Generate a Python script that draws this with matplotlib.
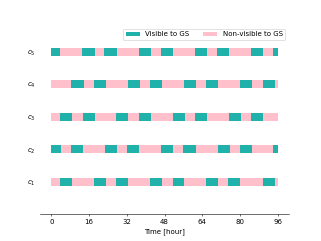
import matplotlib.pyplot as plt
import numpy as np

hours_total = 96
sat_labels = ["$c_1$", "$c_2$", "$c_3$", "$c_4$", "$c_5$"]
xticks = [0, 16, 32, 48, 64, 80, 96]

# visible windows (start, end) in hours, one list per satellite
vis_c1 = [(3.7, 8.8), (18.1, 23.0), (27.5, 32.6), (42.0, 47.1), (51.4, 56.3),
          (65.7, 70.8), (75.1, 80.2), (89.6, 94.7)]
vis_c2 = [(0, 4.0), (8.4, 13.4), (22.8, 27.9), (32.1, 37.3), (46.7, 51.8),
          (56.0, 61.2), (70.6, 75.7), (79.9, 85.1), (94.2, 96)]
vis_c3 = [(3.7, 8.7), (13.2, 18.35), (27.6, 32.7), (37.0, 42.1), (51.5, 56.6),
          (60.9, 66.0), (75.4, 80.5), (84.8, 89.9)]
vis_c4 = [(8.5, 13.7), (17.9, 23.0), (32.4, 37.6), (41.8, 46.9), (56.3, 61.5),
          (65.7, 70.8), (80.2, 85.3), (89.6, 94.7)]
vis_c5 = [(0, 3.8), (13.1, 18.35), (22.5, 27.7), (37.0, 42.1), (46.4, 51.6),
          (60.9, 66.0), (70.3, 75.5), (84.8, 89.9), (94.2, 96)]
windows = [vis_c1, vis_c2, vis_c3, vis_c4, vis_c5]

vis_color = "lightseagreen"
nonvis_color = "pink"
h = 0.25

fig, ax = plt.subplots(figsize=(6.42, 4.82), dpi=50)

for i, win in enumerate(windows):
    y = i + 1
    ax.broken_barh([(0, hours_total)], (y - h / 2, h), facecolors=nonvis_color,
                   label="Non-visible to GS" if i == 0 else None, zorder=1)
    ax.broken_barh([(s, e - s) for s, e in win], (y - h / 2, h), facecolors=vis_color,
                   label="Visible to GS" if i == 0 else None, zorder=2)

ax.set_yticks(np.arange(1, len(sat_labels) + 1))
ax.set_yticklabels(sat_labels)
ax.tick_params(axis="y", left=False)
ax.set_xticks(xticks)
ax.set_xlim(-4.8, 100.8)
ax.set_ylim(0, 5.7)
ax.set_xlabel("Time [hour]")
for s in ["top", "right", "left"]:
    ax.spines[s].set_visible(False)

handles, labels = ax.get_legend_handles_labels()
order = [labels.index("Visible to GS"), labels.index("Non-visible to GS")]
ax.legend([handles[k] for k in order], [labels[k] for k in order], ncol=2,
          loc="upper right", bbox_to_anchor=(1.0, 1.02))

plt.savefig("out.png", dpi=50)
plt.close()
